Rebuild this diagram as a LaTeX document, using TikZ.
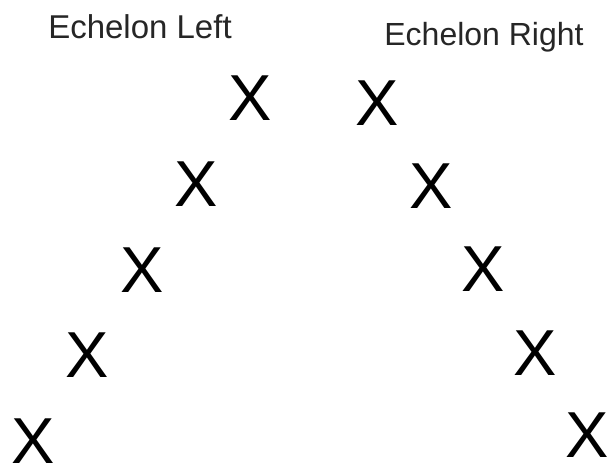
\documentclass[tikz,border=0pt]{standalone}
\usepackage{fontspec}
\setmainfont{Liberation Sans}
\begin{document}
\begin{tikzpicture}[x=1pt,y=-1pt,
  mark/.style={},
  soldier/.style={inner sep=0pt,outer sep=0pt,font=\fontsize{65}{65}\selectfont,text=black},
  heading/.style={inner sep=0pt,outer sep=0pt,anchor=base,text=black!85}]
\useasboundingbox (0,0) rectangle (610,465);
\node[heading,font=\fontsize{33}{33}\selectfont] (hl) at (140,39) {Echelon Left};
\node[heading,font=\fontsize{32}{32}\selectfont] (hr) at (484,46) {Echelon Right};
\node[soldier] (l1) at (250,98.5) {X};
\node[soldier] (l2) at (196,184) {X};
\node[soldier] (l3) at (142.5,270) {X};
\node[soldier] (l4) at (87.5,355.5) {X};
\node[soldier] (l5) at (33,441.5) {X};
\node[soldier] (r1) at (377.5,103.5) {X};
\node[soldier] (r2) at (431,186.5) {X};
\node[soldier] (r3) at (483,269.5) {X};
\node[soldier] (r4) at (535,353.5) {X};
\node[soldier] (r5) at (587.5,435.5) {X};
\end{tikzpicture}
\end{document}
